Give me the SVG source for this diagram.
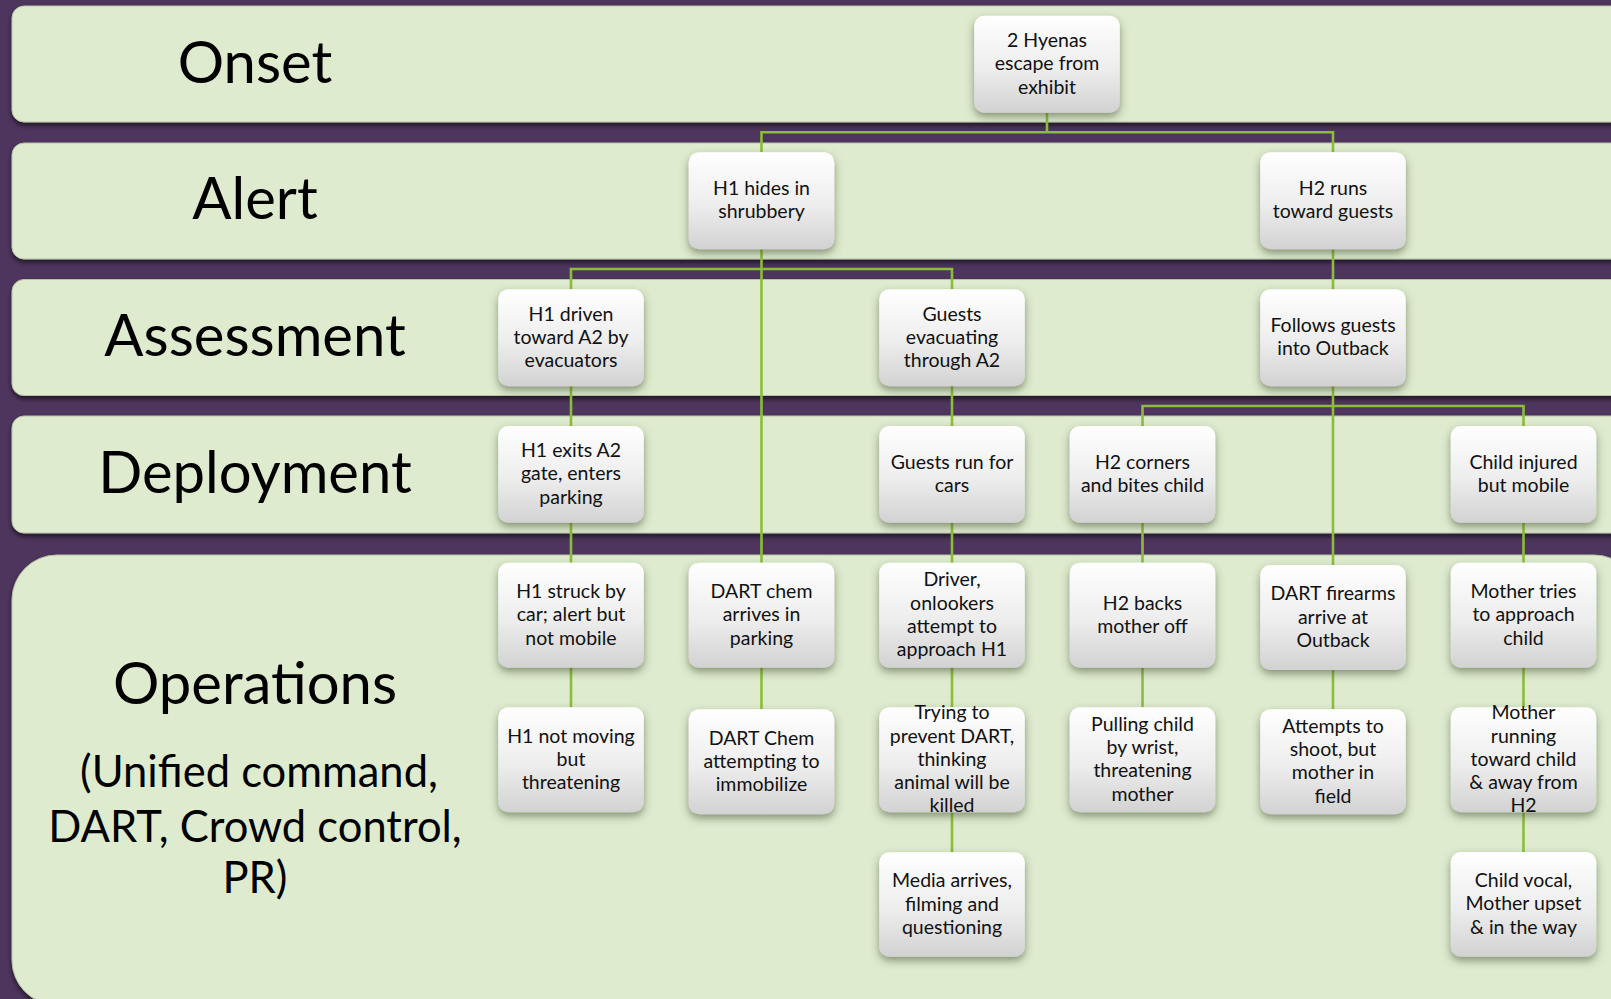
<svg xmlns="http://www.w3.org/2000/svg" width="1611" height="999" viewBox="0 0 1611 999">
<defs>
<linearGradient id="ng" x1="0" y1="0" x2="0" y2="1">
<stop offset="0" stop-color="#ffffff"/>
<stop offset="0.55" stop-color="#ededed"/>
<stop offset="1" stop-color="#d2d2d2"/>
</linearGradient>
<filter id="bs" x="-5%" y="-20%" width="110%" height="150%">
<feDropShadow dx="0" dy="3" stdDeviation="2.5" flood-color="#000" flood-opacity="0.6"/>
</filter>
<filter id="ns" x="-20%" y="-20%" width="140%" height="150%">
<feDropShadow dx="0" dy="4" stdDeviation="4" flood-color="#3b4a2c" flood-opacity="0.55"/>
</filter>
</defs>
<style>
.band{fill:#deebcf;stroke:#b7c2aa;stroke-width:1;filter:url(#bs)}
.node rect{fill:url(#ng);filter:url(#ns)}
.node text{font-family:Lato,"Open Sans",sans-serif;font-size:19.5px;fill:#111;text-anchor:middle}
.lbl{font-family:Lato,"Open Sans",sans-serif;fill:#000;text-anchor:middle}
.big{font-size:58px}
.sub{font-size:43.5px}
#connectors path{fill:none;stroke:#8cbd3a;stroke-width:2.6}
</style>
<rect x="0" y="0" width="1611" height="999" fill="#4e355d"/>
<g id="bands">
<rect class="band" x="12" y="6" width="1640" height="116" rx="12"/>
<rect class="band" x="12" y="143" width="1640" height="116" rx="12"/>
<rect class="band" x="12" y="279.5" width="1640" height="116" rx="12"/>
<rect class="band" x="12" y="416" width="1640" height="117" rx="12"/>
<rect class="band" x="12" y="555" width="1627" height="450" rx="45"/>
</g>
<g id="labels">
<text class="lbl big" x="255" y="82.7">Onset</text>
<text class="lbl big" x="255" y="219.3">Alert</text>
<text class="lbl big" x="255" y="356">Assessment</text>
<text class="lbl big" x="255" y="493">Deployment</text>
<text class="lbl big" x="255" y="704">Operations</text>
<text class="lbl sub" x="259" y="787.3">(Unified command,</text>
<text class="lbl sub" x="255" y="841.7">DART, Crowd control,</text>
<text class="lbl sub" x="255" y="893.3">PR)</text>
</g>
<g id="connectors">
<path d="M1047 112.7V132.3M761.5 152.3V132.3H1333V152.3"/>
<path d="M761.5 249.3V562.7M571 289.3V269H952V289.3"/>
<path d="M1333 249.3V565M1142.5 426V406H1523.5V426"/>
<path d="M571 386V426M571 522.7V562.7M571 667.3V707.3"/>
<path d="M761.5 667.3V709.3"/>
<path d="M952 386V426M952 522.7V562.7M952 667.3V707.3M952 812.3V852.3"/>
<path d="M1142.5 522.7V562.7M1142.5 667.7V707.3"/>
<path d="M1333 670V709.3"/>
<path d="M1523.5 522.7V562.7M1523.5 667.7V707.3M1523.5 812.3V852"/>
</g>
<g id="n0" class="node"><rect x="974.2" y="15.7" width="145.6" height="97" rx="10"/><text x="1047"><tspan x="1047" y="46.9">2 Hyenas</tspan><tspan x="1047" y="70.2">escape from</tspan><tspan x="1047" y="93.5">exhibit</tspan></text></g>
<g id="n1" class="node"><rect x="688.7" y="152.3" width="145.6" height="97" rx="10"/><text><tspan x="761.5" y="195.15">H1 hides in</tspan><tspan x="761.5" y="218.45">shrubbery</tspan></text></g>
<g id="n2" class="node"><rect x="1260.2" y="152.3" width="145.6" height="97" rx="10"/><text><tspan x="1333" y="195.15">H2 runs</tspan><tspan x="1333" y="218.45">toward guests</tspan></text></g>
<g id="n3" class="node"><rect x="498.2" y="289.3" width="145.6" height="97" rx="10"/><text><tspan x="571" y="320.5">H1 driven</tspan><tspan x="571" y="343.8">toward A2 by</tspan><tspan x="571" y="367.1">evacuators</tspan></text></g>
<g id="n4" class="node"><rect x="879.2" y="289.3" width="145.6" height="97" rx="10"/><text><tspan x="952" y="320.5">Guests</tspan><tspan x="952" y="343.8">evacuating</tspan><tspan x="952" y="367.1">through A2</tspan></text></g>
<g id="n5" class="node"><rect x="1260.2" y="289.3" width="145.6" height="97" rx="10"/><text><tspan x="1333" y="332.15">Follows guests</tspan><tspan x="1333" y="355.45">into Outback</tspan></text></g>
<g id="n6" class="node"><rect x="498.2" y="426" width="145.6" height="96.7" rx="10"/><text><tspan x="571" y="457.05">H1 exits A2</tspan><tspan x="571" y="480.35">gate, enters</tspan><tspan x="571" y="503.65">parking</tspan></text></g>
<g id="n7" class="node"><rect x="879.2" y="426" width="145.6" height="96.7" rx="10"/><text><tspan x="952" y="468.7">Guests run for</tspan><tspan x="952" y="492">cars</tspan></text></g>
<g id="n8" class="node"><rect x="1069.7" y="426" width="145.6" height="96.7" rx="10"/><text><tspan x="1142.5" y="468.7">H2 corners</tspan><tspan x="1142.5" y="492">and bites child</tspan></text></g>
<g id="n9" class="node"><rect x="1450.7" y="426" width="145.6" height="96.7" rx="10"/><text><tspan x="1523.5" y="468.7">Child injured</tspan><tspan x="1523.5" y="492">but mobile</tspan></text></g>
<g id="n10" class="node"><rect x="498.2" y="562.7" width="145.6" height="105" rx="10"/><text><tspan x="571" y="597.9">H1 struck by</tspan><tspan x="571" y="621.2">car; alert but</tspan><tspan x="571" y="644.5">not mobile</tspan></text></g>
<g id="n11" class="node"><rect x="688.7" y="562.7" width="145.6" height="105" rx="10"/><text><tspan x="761.5" y="597.9">DART chem</tspan><tspan x="761.5" y="621.2">arrives in</tspan><tspan x="761.5" y="644.5">parking</tspan></text></g>
<g id="n12" class="node"><rect x="879.2" y="562.7" width="145.6" height="105" rx="10"/><text><tspan x="952" y="586.25">Driver,</tspan><tspan x="952" y="609.55">onlookers</tspan><tspan x="952" y="632.85">attempt to</tspan><tspan x="952" y="656.15">approach H1</tspan></text></g>
<g id="n13" class="node"><rect x="1069.7" y="562.7" width="145.6" height="105" rx="10"/><text><tspan x="1142.5" y="609.55">H2 backs</tspan><tspan x="1142.5" y="632.85">mother off</tspan></text></g>
<g id="n14" class="node"><rect x="1260.2" y="565" width="145.6" height="105" rx="10"/><text><tspan x="1333" y="600.2">DART firearms</tspan><tspan x="1333" y="623.5">arrive at</tspan><tspan x="1333" y="646.8">Outback</tspan></text></g>
<g id="n15" class="node"><rect x="1450.7" y="562.7" width="145.6" height="105" rx="10"/><text><tspan x="1523.5" y="597.9">Mother tries</tspan><tspan x="1523.5" y="621.2">to approach</tspan><tspan x="1523.5" y="644.5">child</tspan></text></g>
<g id="n16" class="node"><rect x="498.2" y="707.3" width="145.6" height="105" rx="10"/><text><tspan x="571" y="742.5">H1 not moving</tspan><tspan x="571" y="765.8">but</tspan><tspan x="571" y="789.1">threatening</tspan></text></g>
<g id="n17" class="node"><rect x="688.7" y="709.3" width="145.6" height="105" rx="10"/><text><tspan x="761.5" y="744.5">DART Chem</tspan><tspan x="761.5" y="767.8">attempting to</tspan><tspan x="761.5" y="791.1">immobilize</tspan></text></g>
<g id="n18" class="node"><rect x="879.2" y="707.3" width="145.6" height="105" rx="10"/><text><tspan x="952" y="719.2">Trying to</tspan><tspan x="952" y="742.5">prevent DART,</tspan><tspan x="952" y="765.8">thinking</tspan><tspan x="952" y="789.1">animal will be</tspan><tspan x="952" y="812.4">killed</tspan></text></g>
<g id="n19" class="node"><rect x="1069.7" y="707.3" width="145.6" height="105" rx="10"/><text><tspan x="1142.5" y="730.85">Pulling child</tspan><tspan x="1142.5" y="754.15">by wrist,</tspan><tspan x="1142.5" y="777.45">threatening</tspan><tspan x="1142.5" y="800.75">mother</tspan></text></g>
<g id="n20" class="node"><rect x="1260.2" y="709.3" width="145.6" height="105" rx="10"/><text><tspan x="1333" y="732.85">Attempts to</tspan><tspan x="1333" y="756.15">shoot, but</tspan><tspan x="1333" y="779.45">mother in</tspan><tspan x="1333" y="802.75">field</tspan></text></g>
<g id="n21" class="node"><rect x="1450.7" y="707.3" width="145.6" height="105" rx="10"/><text><tspan x="1523.5" y="719.2">Mother</tspan><tspan x="1523.5" y="742.5">running</tspan><tspan x="1523.5" y="765.8">toward child</tspan><tspan x="1523.5" y="789.1">&amp; away from</tspan><tspan x="1523.5" y="812.4">H2</tspan></text></g>
<g id="n22" class="node"><rect x="879.2" y="852.3" width="145.6" height="104.5" rx="10"/><text><tspan x="952" y="887.25">Media arrives,</tspan><tspan x="952" y="910.55">filming and</tspan><tspan x="952" y="933.85">questioning</tspan></text></g>
<g id="n23" class="node"><rect x="1450.7" y="852" width="145.6" height="104.7" rx="10"/><text><tspan x="1523.5" y="887.05">Child vocal,</tspan><tspan x="1523.5" y="910.35">Mother upset</tspan><tspan x="1523.5" y="933.65">&amp; in the way</tspan></text></g>
</svg>
